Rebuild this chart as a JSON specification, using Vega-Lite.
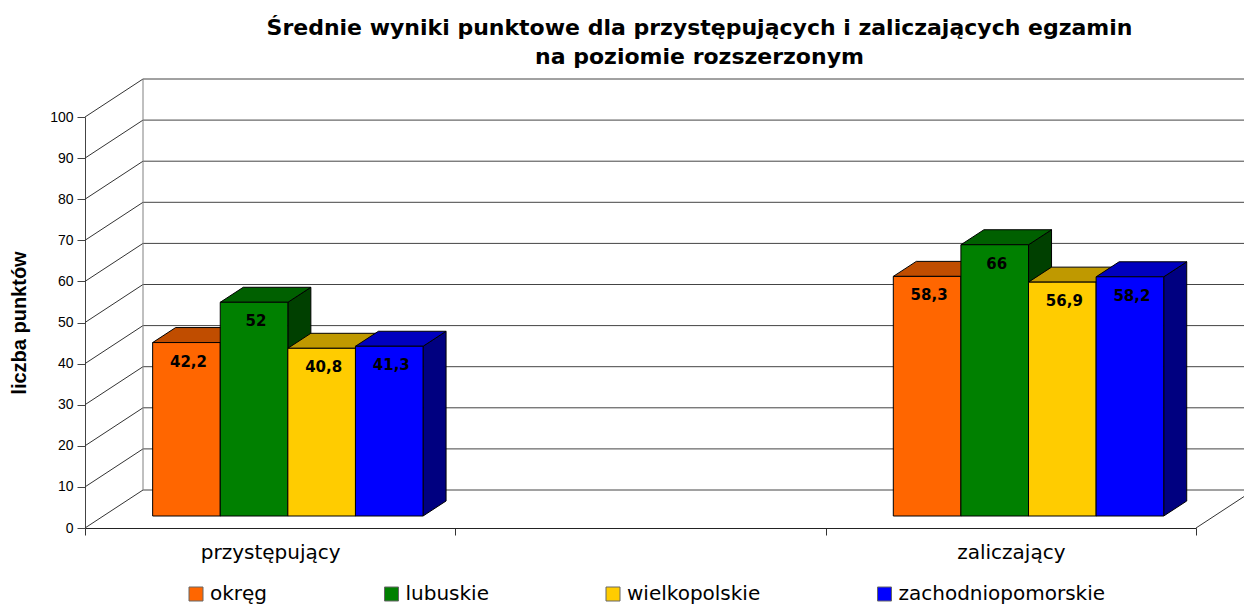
{
"$schema":"https://vega.github.io/schema/vega-lite/v6.json",
"width":1111,"height":411,"autosize":{"type":"none"},
"padding":{"left":85,"top":117,"right":48,"bottom":77},
"background":"white",
"title":{"text":["Średnie wyniki punktowe dla przystępujących i zaliczających egzamin","na poziomie rozszerzonym"],"font":"DejaVu Sans","fontSize":22,"fontWeight":"bold","color":"#000","anchor":"middle","frame":"group","dx":59,"offset":10,"lineHeight":29},
"config":{"view":{"stroke":null},"text":{"font":"DejaVu Sans"}},
"datasets":{
"wyniki":[
{"kategoria":"przystępujący","seria":"okręg","wartosc":42.2},
{"kategoria":"przystępujący","seria":"lubuskie","wartosc":52},
{"kategoria":"przystępujący","seria":"wielkopolskie","wartosc":40.8},
{"kategoria":"przystępujący","seria":"zachodniopomorskie","wartosc":41.3},
{"kategoria":"zaliczający","seria":"okręg","wartosc":58.3},
{"kategoria":"zaliczający","seria":"lubuskie","wartosc":66},
{"kategoria":"zaliczający","seria":"wielkopolskie","wartosc":56.9},
{"kategoria":"zaliczający","seria":"zachodniopomorskie","wartosc":58.2}],
"siatka":[{"v":0},{"v":10},{"v":20},{"v":30},{"v":40},{"v":50},{"v":60},{"v":70},{"v":80},{"v":90},{"v":100}]
},
"resolve":{"scale":{"x":"independent","fill":"independent"},"axis":{"y":"independent"},"legend":{"fill":"independent","color":"independent"}},
"layer":[
{"data":{"name":"siatka"},
 "mark":{"type":"rule","stroke":"#444","strokeWidth":1,"xOffset":58,"x2Offset":58,"yOffset":-38},
 "encoding":{"x":{"datum":0,"type":"quantitative","scale":{"domain":[0,3]},"axis":null},"x2":{"datum":3},
  "y":{"field":"v","type":"quantitative","scale":{"domain":[0,100],"nice":false},"axis":null}}},
{"data":{"name":"siatka"},
 "mark":{"type":"rule","stroke":"#333","strokeWidth":1,"x2Offset":58,"y2Offset":-38},
 "encoding":{"x":{"datum":0,"type":"quantitative","scale":{"domain":[0,3]},"axis":null},"x2":{"datum":0},
  "y":{"field":"v","type":"quantitative","axis":null},"y2":{"field":"v"}}},
{"data":{"name":"siatka"},"transform":[{"filter":"datum.v==0"}],
 "mark":{"type":"rule","stroke":"#333","strokeWidth":1,"x2Offset":58,"y2Offset":-38},
 "encoding":{"x":{"datum":3,"type":"quantitative","scale":{"domain":[0,3]},"axis":null},"x2":{"datum":3},
  "y":{"field":"v","type":"quantitative","axis":null},"y2":{"field":"v"}}},
{"data":{"name":"siatka"},"transform":[{"filter":"datum.v==0"}],
 "mark":{"type":"rule","stroke":"#808080","strokeWidth":1,"xOffset":58,"yOffset":-38,"y2Offset":-38},
 "encoding":{"x":{"datum":0,"type":"quantitative","scale":{"domain":[0,3]},"axis":null},
  "y":{"datum":0,"type":"quantitative","axis":null},"y2":{"datum":100}}},
{"data":{"name":"wyniki"},
 "transform":[
  {"calculate":"[0,1]","as":"d"},{"flatten":["d"]},
  {"calculate":"(datum.kategoria=='zaliczający'?2:0)+0.5478+(indexof(['okręg','lubuskie','wielkopolskie','zachodniopomorskie'],datum.seria)-1)*0.18254+datum.d*0.0621","as":"xp"},
  {"calculate":"datum.wartosc+2.92+datum.d*3.65","as":"yg"},
  {"calculate":"2.92+datum.d*3.65","as":"yd"}],
 "mark":{"type":"area","orient":"vertical","stroke":"#000","strokeWidth":1},
 "encoding":{"x":{"field":"xp","type":"quantitative","scale":{"domain":[0,3]},"axis":null},
  "y":{"field":"yg","type":"quantitative","axis":null},"y2":{"field":"yd"},
  "detail":[{"field":"kategoria"},{"field":"seria"}],
  "fill":{"field":"seria","type":"nominal","legend":null,"scale":{"domain":["okręg","lubuskie","wielkopolskie","zachodniopomorskie"],"range":["#803300","#004000","#806600","#000080"]}}}},
{"data":{"name":"wyniki"},
 "transform":[
  {"calculate":"[0,1]","as":"d"},{"flatten":["d"]},
  {"calculate":"(datum.kategoria=='zaliczający'?2:0)+0.5478+(indexof(['okręg','lubuskie','wielkopolskie','zachodniopomorskie'],datum.seria)-2)*0.18254+datum.d*0.0621","as":"xl"},
  {"calculate":"datum.xl+0.18254","as":"xr"},
  {"calculate":"datum.wartosc+2.92+datum.d*3.65","as":"yg"}],
 "mark":{"type":"area","orient":"horizontal","stroke":"#000","strokeWidth":1},
 "encoding":{"x":{"field":"xl","type":"quantitative","scale":{"domain":[0,3]},"axis":null},"x2":{"field":"xr"},
  "y":{"field":"yg","type":"quantitative","axis":null},
  "detail":[{"field":"kategoria"},{"field":"seria"}],
  "fill":{"field":"seria","type":"nominal","legend":null,"scale":{"domain":["okręg","lubuskie","wielkopolskie","zachodniopomorskie"],"range":["#C04D00","#006000","#BF9900","#0000BF"]}}}},
{"data":{"name":"wyniki"},
 "mark":{"type":"bar","stroke":"#000","strokeWidth":1,"yOffset":-12,"y2Offset":-12},
 "encoding":{
  "x":{"field":"kategoria","type":"nominal","scale":{"domain":["przystępujący"," ","zaliczający"],"paddingInner":0,"paddingOuter":0},
   "axis":{"title":null,"tickBand":"extent","labelAngle":0,"labelFont":"DejaVu Sans","labelFontSize":20,"labelColor":"#000","labelPadding":7,"tickSize":7,"tickColor":"#333","domainColor":"#222","grid":false}},
  "xOffset":{"field":"seria","type":"nominal","sort":["okręg","lubuskie","wielkopolskie","zachodniopomorskie"],"scale":{"paddingInner":0,"paddingOuter":0.739,"align":0.677}},
  "y":{"field":"wartosc","type":"quantitative","scale":{"domain":[0,100],"nice":false},
   "axis":{"title":"liczba punktów","titleFont":"Liberation Sans","titleFontSize":20,"titleFontWeight":"bold","titleColor":"#000","titlePadding":20,"values":[0,10,20,30,40,50,60,70,80,90,100],"grid":false,"labelFont":"Liberation Sans","labelFontSize":14,"labelColor":"#000","labelPadding":4,"tickSize":8,"tickColor":"#444","domainColor":"#444"}},
  "y2":{"datum":0},
  "color":{"field":"seria","type":"nominal","sort":["okręg","lubuskie","wielkopolskie","zachodniopomorskie"],
   "scale":{"domain":["okręg","lubuskie","wielkopolskie","zachodniopomorskie"],"range":["#FF6600","#008000","#FFCC00","#0000FF"]},
   "legend":{"title":null,"orient":"none","legendX":101,"legendY":467,"direction":"horizontal","columns":4,"gridAlign":"none","columnPadding":113.5,"symbolType":"square","symbolSize":196,"symbolStrokeColor":"#666","symbolStrokeWidth":1,"labelFont":"DejaVu Sans","labelFontSize":20,"labelColor":"#000","labelOffset":4,"labelLimit":400}}}},
{"data":{"name":"wyniki"},
 "transform":[{"calculate":"replace(toString(datum.wartosc),'.',',')","as":"etykieta"}],
 "mark":{"type":"text","font":"DejaVu Sans","fontWeight":"bold","fontSize":15,"color":"#000","dx":2,"yOffset":7,"baseline":"middle"},
 "encoding":{
  "x":{"field":"kategoria","type":"nominal","scale":{"domain":["przystępujący"," ","zaliczający"],"paddingInner":0,"paddingOuter":0},"axis":null},
  "xOffset":{"field":"seria","type":"nominal","sort":["okręg","lubuskie","wielkopolskie","zachodniopomorskie"],"scale":{"paddingInner":0,"paddingOuter":0.739,"align":0.677}},
  "y":{"field":"wartosc","type":"quantitative","axis":null},
  "text":{"field":"etykieta","type":"nominal"}}}
]
}
